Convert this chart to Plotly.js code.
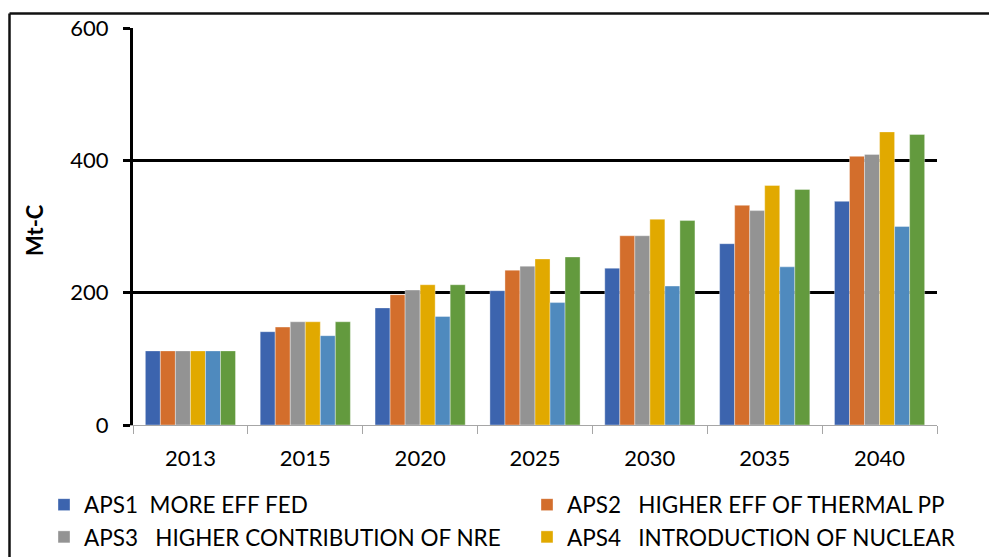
<!DOCTYPE html>
<html>
<head>
<meta charset="utf-8">
<script src="https://cdn.plot.ly/plotly-3.0.1.min.js"></script>
<style>
html,body{margin:0;padding:0;background:#fff;}
#chart{width:989px;height:557px;}
</style>
</head>
<body>
<div id="chart"></div>
<script>
// ---- data ----
var years = ["2013", "2015", "2020", "2025", "2030", "2035", "2040"];
var seriesNames = [
  "APS1\u00a0\u00a0MORE EFF FED",
  "APS2\u00a0\u00a0\u00a0HIGHER EFF OF THERMAL PP",
  "APS3\u00a0\u00a0\u00a0HIGHER CONTRIBUTION OF NRE",
  "APS4\u00a0\u00a0\u00a0INTRODUCTION OF NUCLEAR",
  "APS5",
  "APS6"
];
var aps1 = [112, 141, 177, 203, 237, 274, 338];
var aps2 = [112, 148, 197, 234, 286, 332, 406];
var aps3 = [112, 156, 204, 240, 286, 324, 409];
var aps4 = [112, 156, 212, 251, 311, 362, 443];
var aps5 = [112, 135, 164, 185, 210, 239, 300];
var aps6 = [112, 156, 212, 254, 309, 356, 439];
var yTicks = [0, 200, 400, 600];
var yTitle = "Mt-C";

var values = [aps1, aps2, aps3, aps4, aps5, aps6];
var colors = ["#3C64AE", "#D36E2C", "#939393", "#E1A900", "#4F8ABE", "#639A3E"];
var inLegend = [true, true, true, true, false, false];
var legendOf = ["legend", "legend2", "legend", "legend2", "legend", "legend2"];

var FONT = "Lato, 'Open Sans', sans-serif";

var traces = values.map(function (v, i) {
  return {
    type: "bar",
    x: years,
    y: v,
    name: seriesNames[i],
    showlegend: inLegend[i],
    legend: legendOf[i],
    legendgroup: "g" + i,
    marker: { color: colors[i], line: { color: "rgba(255,255,255,0.6)", width: 0.6 } }
  };
});

// plot area: x 133..937, y 28..425
var L = 133, R = 52, T = 28, B = 132, W = 989, H = 557;
var pw = W - L - R, ph = H - T - B;
function px(x) { return (x - L) / pw; }
function py(y) { return 1 - (y - T) / ph; }

function legendAt(xPix) {
  return {
    orientation: "v",
    xref: "container",
    yref: "container",
    x: xPix / W,
    xanchor: "left",
    y: 1 - 483.5 / H,
    yanchor: "top",
    font: { family: FONT, size: 22.5, color: "#000" },
    bgcolor: "rgba(0,0,0,0)",
    borderwidth: 0,
    tracegroupgap: 2,
    itemwidth: 30,
    traceorder: "normal"
  };
}

var layout = {
  width: W,
  height: H,
  margin: { l: L, r: R, t: T, b: B, pad: 0, autoexpand: false },
  paper_bgcolor: "#ffffff",
  plot_bgcolor: "#ffffff",
  barmode: "group",
  bargap: 0.215,
  bargroupgap: 0,
  font: { family: FONT, color: "#000000", size: 22 },
  showlegend: true,
  xaxis: {
    type: "category",
    tickson: "boundaries",
    ticks: "outside",
    ticklen: 8,
    tickwidth: 1,
    tickcolor: "#a6a6a6",
    showline: true,
    linecolor: "#a6a6a6",
    linewidth: 1,
    showgrid: false,
    tickfont: { family: FONT, size: 22, color: "#000" },
    ticklabelstandoff: 14,
    automargin: false,
    fixedrange: true
  },
  yaxis: {
    range: [0, 600],
    tickvals: yTicks,
    ticktext: yTicks.map(String),
    ticks: "outside",
    ticklen: 7,
    tickwidth: 3,
    tickcolor: "#000",
    showline: true,
    linecolor: "#000",
    linewidth: 3,
    showgrid: true,
    gridcolor: "#000",
    gridwidth: 3,
    zeroline: false,
    tickfont: { family: FONT, size: 22, color: "#000" },
    ticklabelstandoff: 10,
    automargin: false,
    fixedrange: true
  },
  annotations: [
    { text: "<b>" + yTitle + "</b>", xref: "paper", yref: "paper", x: px(34), y: py(230),
      xanchor: "center", yanchor: "middle", textangle: -90, showarrow: false,
      font: { family: FONT, size: 22, color: "#000" } }
  ],
  legend: legendAt(44),
  legend2: legendAt(527),
  shapes: [
    { type: "line", xref: "paper", yref: "paper", x0: px(9.5), x1: px(9.5), y0: py(560), y1: py(13.5),
      line: { color: "#111", width: 2.5 } },
    { type: "line", xref: "paper", yref: "paper", x0: px(9.5), x1: px(992), y0: py(13.5), y1: py(13.5),
      line: { color: "#111", width: 2.5 } }
  ]
};

Plotly.newPlot("chart", traces, layout, { displayModeBar: false, staticPlot: true });
</script>
</body>
</html>
